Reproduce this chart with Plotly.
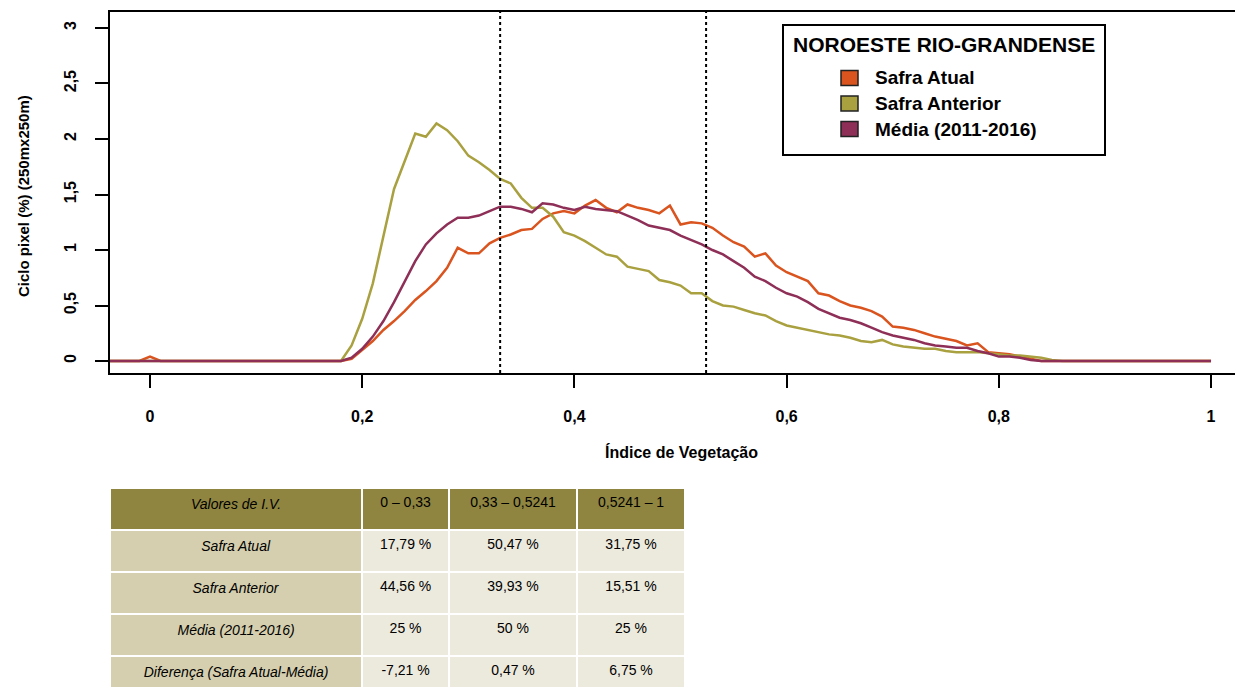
import plotly.graph_objects as go

# ---------------- data ----------------
iv = [-0.04, -0.01, 0.0, 0.01, 0.17, 0.18, 0.19, 0.20, 0.21, 0.22, 0.23, 0.24, 0.25, 0.26, 0.27, 0.28, 0.29,
      0.30, 0.31, 0.32, 0.33, 0.34, 0.35, 0.36, 0.37, 0.38, 0.39,
      0.40, 0.41, 0.42, 0.43, 0.44, 0.45, 0.46, 0.47, 0.48, 0.49,
      0.50, 0.51, 0.52, 0.53, 0.54, 0.55, 0.56, 0.57, 0.58, 0.59,
      0.60, 0.61, 0.62, 0.63, 0.64, 0.65, 0.66, 0.67, 0.68, 0.69,
      0.70, 0.71, 0.72, 0.73, 0.74, 0.75, 0.76, 0.77, 0.78, 0.79,
      0.80, 0.81, 0.82, 0.83, 0.84, 0.85, 0.86, 1.0]

safra_atual = [0, 0, 0.04, 0, 0, 0, 0.02, 0.10, 0.18, 0.28, 0.36, 0.45, 0.55, 0.63, 0.72, 0.84, 1.02,
               0.97, 0.97, 1.06, 1.11, 1.14, 1.18, 1.19, 1.28, 1.33, 1.35,
               1.33, 1.40, 1.45, 1.38, 1.34, 1.41, 1.38, 1.36, 1.33, 1.40,
               1.23, 1.25, 1.24, 1.20, 1.13, 1.07, 1.03, 0.94, 0.97, 0.86,
               0.80, 0.76, 0.72, 0.61, 0.59, 0.54, 0.50, 0.48, 0.45, 0.40,
               0.31, 0.30, 0.28, 0.25, 0.22, 0.20, 0.18, 0.14, 0.16, 0.08,
               0.07, 0.06, 0.04, 0.02, 0, 0, 0, 0]

safra_anterior = [0, 0, 0, 0, 0, 0, 0.14, 0.38, 0.70, 1.12, 1.55, 1.80, 2.05, 2.02, 2.14, 2.08, 1.98,
                  1.85, 1.79, 1.72, 1.64, 1.60, 1.47, 1.38, 1.38, 1.30, 1.16,
                  1.13, 1.08, 1.02, 0.96, 0.94, 0.85, 0.83, 0.81, 0.73, 0.71,
                  0.68, 0.61, 0.61, 0.54, 0.50, 0.49, 0.46, 0.43, 0.41, 0.36,
                  0.32, 0.30, 0.28, 0.26, 0.24, 0.23, 0.21, 0.18, 0.17, 0.19,
                  0.15, 0.13, 0.12, 0.11, 0.11, 0.09, 0.08, 0.08, 0.08, 0.07,
                  0.06, 0.05, 0.05, 0.04, 0.03, 0.01, 0, 0]

media = [0, 0, 0, 0, 0, 0, 0.03, 0.11, 0.22, 0.36, 0.53, 0.72, 0.90, 1.05, 1.15, 1.23, 1.29,
         1.29, 1.31, 1.35, 1.39, 1.39, 1.37, 1.34, 1.42, 1.41, 1.38,
         1.36, 1.39, 1.37, 1.36, 1.35, 1.31, 1.27, 1.22, 1.20, 1.18,
         1.13, 1.09, 1.05, 1.00, 0.96, 0.90, 0.84, 0.76, 0.72, 0.66,
         0.61, 0.58, 0.53, 0.47, 0.43, 0.39, 0.37, 0.34, 0.30, 0.26,
         0.23, 0.21, 0.19, 0.16, 0.14, 0.13, 0.12, 0.12, 0.09, 0.07,
         0.04, 0.04, 0.03, 0.01, 0, 0, 0, 0]

series_names = ["Safra Atual", "Safra Anterior", "Média (2011-2016)"]
series_colors = ["#D9541E", "#A9A040", "#8E2F57"]
cut_points = [0.33, 0.5241]

x_tick_vals = [0, 0.2, 0.4, 0.6, 0.8, 1]
x_tick_text = ["0", "0,2", "0,4", "0,6", "0,8", "1"]
y_tick_vals = [0, 0.5, 1, 1.5, 2, 2.5, 3]
y_tick_text = ["0", "0,5", "1", "1,5", "2", "2,5", "3"]

table_header = ["<i>Valores de I.V.</i>", "0 – 0,33", "0,33 – 0,5241", "0,5241 – 1"]
row_labels = ["<i>Safra Atual</i>", "<i>Safra Anterior</i>", "<i>Média (2011-2016)</i>",
              "<i>Diferença (Safra Atual-Média)</i>"]
col_0_033 = ["17,79 %", "44,56 %", "25 %", "-7,21 %"]
col_033_05241 = ["50,47 %", "39,93 %", "50 %", "0,47 %"]
col_05241_1 = ["31,75 %", "15,51 %", "25 %", "6,75 %"]

# ---------------- figure ----------------
OFF = 8                      # page body margin
W, H = 1243 - OFF, 688 - OFF
FONT = "Liberation Sans Narrow, Arial Narrow, Liberation Sans, Arial, sans-serif"
BFONT = "Liberation Sans, Arial, sans-serif"


def px(xp):
    return (xp - OFF) / W


def py(yp):
    return 1 - (yp - OFF) / H


fig = go.Figure()
for name, ys, col in zip(series_names, [safra_atual, safra_anterior, media], series_colors):
    fig.add_trace(go.Scatter(x=iv, y=ys, mode="lines", name=name, showlegend=False,
                             line=dict(color=col, width=2.5), cliponaxis=True))

fig.add_trace(go.Table(
    domain=dict(x=[px(110), px(685)], y=[0, py(488)]),
    columnwidth=[250, 86, 127, 107],
    header=dict(values=table_header, fill_color="#8F8540", align="center", height=42,
                line=dict(color="white", width=2),
                font=dict(family=BFONT, size=14, color="black")),
    cells=dict(values=[row_labels, col_0_033, col_033_05241, col_05241_1],
               fill_color=[["#D5CFAF"] * 4, ["#ECE9DD"] * 4, ["#ECE9DD"] * 4, ["#ECE9DD"] * 4],
               align="center", height=42, line=dict(color="white", width=2),
               font=dict(family=BFONT, size=14, color="black")),
))

shapes = []
for c in cut_points:
    shapes.append(dict(type="line", xref="x", yref="y domain", x0=c, x1=c, y0=0, y1=1,
                       line=dict(color="black", width=2, dash="dot")))

# legend box (manual, R style)
shapes.append(dict(type="rect", xref="paper", yref="paper", x0=px(783), x1=px(1105), y0=py(155), y1=py(25),
                   line=dict(color="black", width=2), fillcolor="white"))
annotations = [dict(xref="paper", yref="paper", x=px(944), y=py(44), text="<b>NOROESTE RIO-GRANDENSE</b>",
                    showarrow=False, font=dict(family=FONT, size=21, color="black"),
                    xanchor="center", yanchor="middle")]
for i, (name, col) in enumerate(zip(series_names, series_colors)):
    yc = 78 + i * 25.5
    shapes.append(dict(type="rect", xref="paper", yref="paper", x0=px(841), x1=px(858),
                       y0=py(yc + 7.5), y1=py(yc - 7.5), line=dict(color="#222", width=1.5), fillcolor=col))
    annotations.append(dict(xref="paper", yref="paper", x=px(873), y=py(yc), text="<b>" + name + "</b>",
                            showarrow=False, font=dict(family=FONT, size=19, color="black"),
                            xanchor="left", yanchor="middle"))

annotations.append(dict(xref="paper", yref="paper", x=px(681), y=py(452), text="<b>Índice de Vegetação</b>",
                        showarrow=False, font=dict(family=FONT, size=16, color="black"),
                        xanchor="center", yanchor="middle"))
annotations.append(dict(xref="paper", yref="paper", x=px(23), y=py(196), text="<b>Ciclo pixel (%) (250mx250m)</b>",
                        showarrow=False, textangle=-90, font=dict(family=FONT, size=15, color="black"),
                        xanchor="center", yanchor="middle"))

fig.update_layout(
    width=W, height=H, margin=dict(l=0, r=0, t=0, b=0),
    paper_bgcolor="white", plot_bgcolor="white",
    shapes=shapes, annotations=annotations,
    xaxis=dict(domain=[px(110), px(1240)], range=[-0.0377, 1.0273], tickvals=x_tick_vals, ticktext=x_tick_text,
               showgrid=False, zeroline=False, showline=True, mirror=True, linecolor="black", linewidth=2,
               ticks="outside", ticklen=13, tickwidth=2, tickcolor="black", ticklabelstandoff=15,
               tickfont=dict(family=FONT, size=16, color="black", weight="bold")),
    yaxis=dict(domain=[py(373), py(12)], range=[-0.108, 3.144], tickvals=y_tick_vals, ticktext=y_tick_text,
               showgrid=False, zeroline=False, showline=True, mirror=True, linecolor="black", linewidth=2,
               ticks="outside", ticklen=13, tickwidth=2, tickcolor="black", tickangle=-90, ticklabelstandoff=13,
               tickfont=dict(family=FONT, size=16, color="black", weight="bold")),
)

fig.write_html("out.html")
